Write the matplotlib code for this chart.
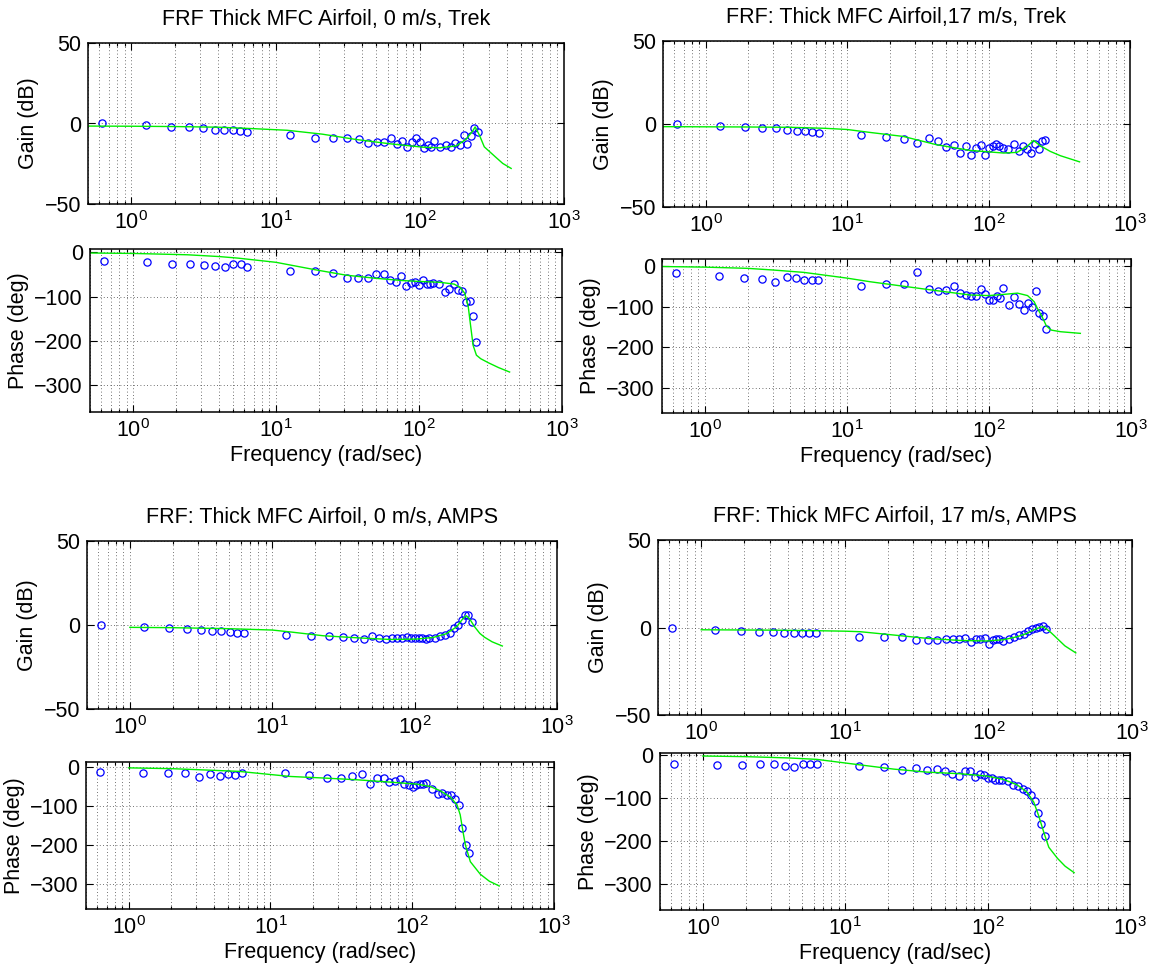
import numpy as np
import matplotlib
matplotlib.use("Agg")
import matplotlib.pyplot as plt
from matplotlib.ticker import LogLocator, NullFormatter, FixedLocator

plt.rcParams["font.family"] = ["Liberation Sans", "DejaVu Sans"]
plt.rcParams["font.size"] = 15.5
plt.rcParams["axes.unicode_minus"] = True

# Excitation frequencies of the sine-dwell tests (Hz)
freq_hz = [0.1, 0.2, 0.3, 0.4, 0.5, 0.6, 0.7, 0.8, 0.9, 1.0,
           2, 3, 4, 5, 6, 7, 8, 9, 10, 11, 12, 13, 14, 15, 16, 17, 18, 19, 20,
           22, 24, 26, 28, 30, 32, 34, 36, 38, 40]
freq_rad = [2 * np.pi * f for f in freq_hz]

# ---- Trek amplifier, 0 m/s ----
trek0_gain = [0.0, -1.0, -2.1, -2.3, -2.9, -4.1, -4.1, -4.3, -4.8, -5.0,
              -7.2, -8.7, -8.9, -8.7, -9.7, -12.4, -11.6, -11.6, -9.3, -13.0,
              -11.0, -14.3, -11.8, -8.9, -11.8, -15.5, -13.6, -14.3, -10.8,
              -14.5, -13.4, -14.7, -12.4, -13.6, -7.0, -12.8, -7.9, -2.9, -5.0]
trek0_phase = [-19.5, -22.6, -26.3, -26.3, -30.0, -31.6, -33.8, -27.0, -27.8, -34.6,
               -43.6, -42.5, -48.1, -59.4, -59.4, -59.0, -50.4, -50.4, -63.2, -66.2,
               -54.1, -75.9, -69.2, -66.9, -74.4, -62.4, -71.4, -72.2, -70.0,
               -72.0, -90.0, -84.0, -71.0, -86.0, -87.0, -112.0, -109.0, -144.0, -203.0]
trek0_fit_w = [0.5, 1, 2, 4, 7, 12, 21, 36, 62, 105, 137, 179, 209, 233, 242,
               259, 280, 334, 376, 430]
trek0_fit_gain = [-1.6, -1.7, -1.9, -2.3, -3.2, -4.2, -6.6, -9.9, -12.6, -14.7,
                  -15.1, -13.9, -9.9, -4.6, -2.1, -7.2, -14.5, -20.7, -24.8, -27.9]
trek0_fit_pw = [0.5, 1, 2.4, 4, 5.4, 10, 19, 31, 50, 76, 100, 140, 176, 195, 209,
                221, 230, 239, 252, 270, 305, 360, 430]
trek0_fit_phase = [-2, -3, -6, -10, -13.5, -23, -40, -52, -59, -64, -66, -68, -72,
                   -80, -93, -123, -168, -210, -232, -240, -249, -260, -270]

# ---- Trek amplifier, 17 m/s ----
trek17_gain = [0.0, -1.0, -1.8, -2.6, -2.6, -3.6, -4.0, -4.4, -4.6, -5.6,
               -6.5, -7.9, -8.9, -11.7, -8.7, -10.3, -13.9, -12.9, -17.7, -13.3,
               -18.5, -14.5, -12.5, -18.9, -14.7, -13.3, -12.3, -13.1, -14.7,
               -14.9, -12.3, -16.5, -13.1, -15.3, -17.3, -12.3, -15.1, -10.3, -9.9]
trek17_phase = [-18.0, -23.8, -28.7, -31.1, -40.2, -26.2, -30.3, -34.4, -33.6, -35.2,
                -48.4, -44.2, -43.4, -15.6, -55.7, -61.4, -58.2, -48.3, -67.2, -71.3,
                -72.9, -74.5, -56.5, -68.0, -84.4, -84.4, -73.7, -79.5, -53.2,
                -95.8, -77.0, -94.2, -108.0, -90.9, -100.7, -62.2, -117.0, -122.9, -155.6]
trek17_fit_w = [0.5, 1, 2, 4, 7, 10, 14.6, 25, 43, 74, 128, 159, 187, 208, 232,
                273, 322, 440]
trek17_fit_gain = [-1.6, -1.7, -1.8, -2.0, -2.6, -3.3, -5.1, -7.5, -12.5, -15.9,
                   -17.5, -17.1, -13.5, -9.9, -13.1, -16.5, -19.1, -22.8]
trek17_fit_pw = [0.5, 1, 2, 3, 5, 10, 14.6, 25, 43, 74, 100, 128, 159, 187, 208,
                 219, 236, 254, 275, 320, 440]
trek17_fit_phase = [-1.5, -3, -6, -10, -16, -30, -39, -50, -61, -71.6, -73, -70,
                    -67, -73, -88, -104, -124, -148, -158, -162, -166]

# ---- AMPS amplifier, 0 m/s ----
amps0_gain = [0.0, -1.2, -1.6, -2.4, -3.2, -3.4, -3.8, -4.4, -4.6, -4.6,
              -5.9, -6.6, -6.6, -7.0, -7.6, -8.2, -6.8, -7.6, -8.4, -8.0,
              -8.0, -8.0, -7.4, -8.0, -8.0, -8.0, -8.0, -8.4, -7.6,
              -7.6, -6.4, -6.0, -4.6, -2.0, 0.0, 2.9, 5.9, 5.7, 1.9]
amps0_phase = [-12.8, -16.2, -16.2, -15.4, -25.6, -18.8, -22.2, -17.1, -20.5, -15.4,
               -15.4, -20.5, -29.0, -29.0, -22.2, -18.8, -43.6, -29.0, -28.2, -37.6,
               -35.9, -29.9, -42.7, -45.3, -52.1, -45.3, -42.7, -42.7, -41.0,
               -57.3, -70.0, -66.7, -72.6, -71.8, -82.0, -98.0, -154.7, -200.0, -220.5]
amps0_fit_w = [1, 2, 5, 10, 13.3, 22.8, 39, 67, 103, 135, 167, 197, 219, 231, 244,
               264, 287, 310, 350, 413]
amps0_fit_gain = [-1.4, -1.6, -2.2, -3.0, -4.1, -6.4, -7.6, -8.6, -8.4, -7.4, -5.2,
                  -1.1, 3.9, 5.5, 3.5, -1.1, -5.0, -7.3, -10.0, -12.5]
amps0_fit_pw = [1, 2, 3, 6, 10, 13.8, 23.8, 40.8, 70, 108, 134, 158, 186, 207, 218,
                228, 237, 257, 302, 350, 411]
amps0_fit_phase = [-2, -4, -6.5, -11, -19, -24, -28, -32.5, -38.5, -43.6, -49.6,
                   -60.7, -77, -96.6, -122, -165, -199, -242, -274, -292, -304]

# ---- AMPS amplifier, 17 m/s ----
amps17_gain = [0.0, -1.5, -1.9, -2.3, -2.7, -2.9, -3.1, -3.1, -3.4, -3.4,
               -5.7, -5.3, -5.6, -7.0, -7.0, -7.0, -6.6, -6.6, -6.6, -6.2,
               -8.1, -6.8, -6.8, -6.2, -9.3, -7.2, -6.8, -6.6, -7.5,
               -6.4, -5.3, -4.3, -3.5, -2.0, -0.85, -0.1, 0.5, 1.0, -0.85]
amps17_phase = [-19.3, -22.4, -21.7, -20.9, -19.3, -24.7, -26.3, -20.1, -20.1, -20.9,
                -25.5, -27.2, -33.5, -28.8, -33.5, -31.1, -37.4, -43.6, -48.2, -37.4,
                -37.4, -51.4, -43.6, -45.1, -52.1, -52.9, -58.4, -57.6, -57.6,
                -60.7, -68.5, -72.4, -79.4, -82.5, -91.8, -106.6, -133.9, -160.3, -186.8]
amps17_fit_w = [1, 3, 6, 10, 12.8, 21.9, 37.3, 63.7, 97.7, 127, 158, 185, 206, 229,
                240, 255, 270, 286, 341, 406]
amps17_fit_gain = [-1.3, -1.5, -1.8, -2.1, -2.4, -4.3, -6.2, -7.4, -7.7, -7.0, -5.3,
                   -3.4, -1.4, 0.1, 0.5, -1.0, -2.6, -4.5, -10.5, -14.5]
amps17_fit_pw = [1, 2, 4, 6.3, 12.6, 21.9, 37.5, 64.3, 99, 129, 161, 189, 211, 228,
                 248, 269, 310, 350, 405]
amps17_fit_phase = [-1.5, -3, -6, -9.3, -22, -32, -39, -42.8, -48.2, -56, -68.5,
                    -85.6, -109, -140, -179, -214, -240, -258, -273]

FIG_W, FIG_H = 1153, 971
fig = plt.figure(figsize=(FIG_W / 100, FIG_H / 100), dpi=100)


def rect(x0, y0, x1, y1):
    return [x0 / FIG_W, 1 - y1 / FIG_H, (x1 - x0) / FIG_W, (y1 - y0) / FIG_H]


def style_axes(ax, yticks, ylim):
    ax.set_xscale("log")
    ax.set_xlim(0.5, 1000)
    ax.set_ylim(*ylim)
    ax.xaxis.set_major_locator(FixedLocator([1, 10, 100, 1000]))
    ax.xaxis.set_minor_locator(LogLocator(base=10, subs=np.arange(2, 10), numticks=20))
    ax.xaxis.set_minor_formatter(NullFormatter())
    ax.yaxis.set_major_locator(FixedLocator(yticks))
    ax.tick_params(which="both", direction="in", top=True, right=True, width=0.8)
    ax.tick_params(which="major", length=5, pad=5)
    ax.tick_params(which="minor", length=2.5)
    ax.grid(True, which="major", axis="both", color="#444444",
            linestyle=(0, (1, 3)), linewidth=0.6)
    ax.grid(True, which="minor", axis="x", color="#444444",
            linestyle=(0, (1, 3)), linewidth=0.6)
    for s in ax.spines.values():
        s.set_linewidth(1.1)


def draw_pair(grect, prect, title, gain, phase, fw, fg, pw, fp, pylim):
    axg = fig.add_axes(rect(*grect))
    style_axes(axg, [-50, 0, 50], (-50, 50))
    axg.plot(freq_rad, gain, "o", mfc="none", mec="#0000ff", ms=5.2, mew=0.9)
    axg.plot(fw, fg, "-", color="#00ee00", lw=1.0)
    axg.set_ylabel("Gain (dB)")
    axg.set_title(title, pad=13, fontsize=15.5)

    axp = fig.add_axes(rect(*prect))
    style_axes(axp, [-300, -200, -100, 0], pylim)
    axp.plot(freq_rad, phase, "o", mfc="none", mec="#0000ff", ms=5.2, mew=0.9)
    axp.plot(pw, fp, "-", color="#00ee00", lw=1.0)
    axp.set_ylabel("Phase (deg)")
    axp.set_xlabel("Frequency (rad/sec)", labelpad=2)


draw_pair((88, 43, 564, 204), (90, 249, 562, 412),
          "FRF Thick MFC Airfoil, 0 m/s, Trek",
          trek0_gain, trek0_phase, trek0_fit_w, trek0_fit_gain,
          trek0_fit_pw, trek0_fit_phase, (-360, 7))
draw_pair((663, 41, 1130, 207), (662, 259, 1131, 413),
          "FRF: Thick MFC Airfoil,17 m/s, Trek",
          trek17_gain, trek17_phase, trek17_fit_w, trek17_fit_gain,
          trek17_fit_pw, trek17_fit_phase, (-362, 17))
draw_pair((87, 541, 557, 709), (86, 762, 554, 909),
          "FRF: Thick MFC Airfoil, 0 m/s, AMPS",
          amps0_gain, amps0_phase, amps0_fit_w, amps0_fit_gain,
          amps0_fit_pw, amps0_fit_phase, (-363, 13))
draw_pair((658, 540, 1132, 715), (660, 753, 1130, 910),
          "FRF: Thick MFC Airfoil, 17 m/s, AMPS",
          amps17_gain, amps17_phase, amps17_fit_w, amps17_fit_gain,
          amps17_fit_pw, amps17_fit_phase, (-360, 5.5))

fig.savefig("out.png", dpi=100, facecolor="white")
